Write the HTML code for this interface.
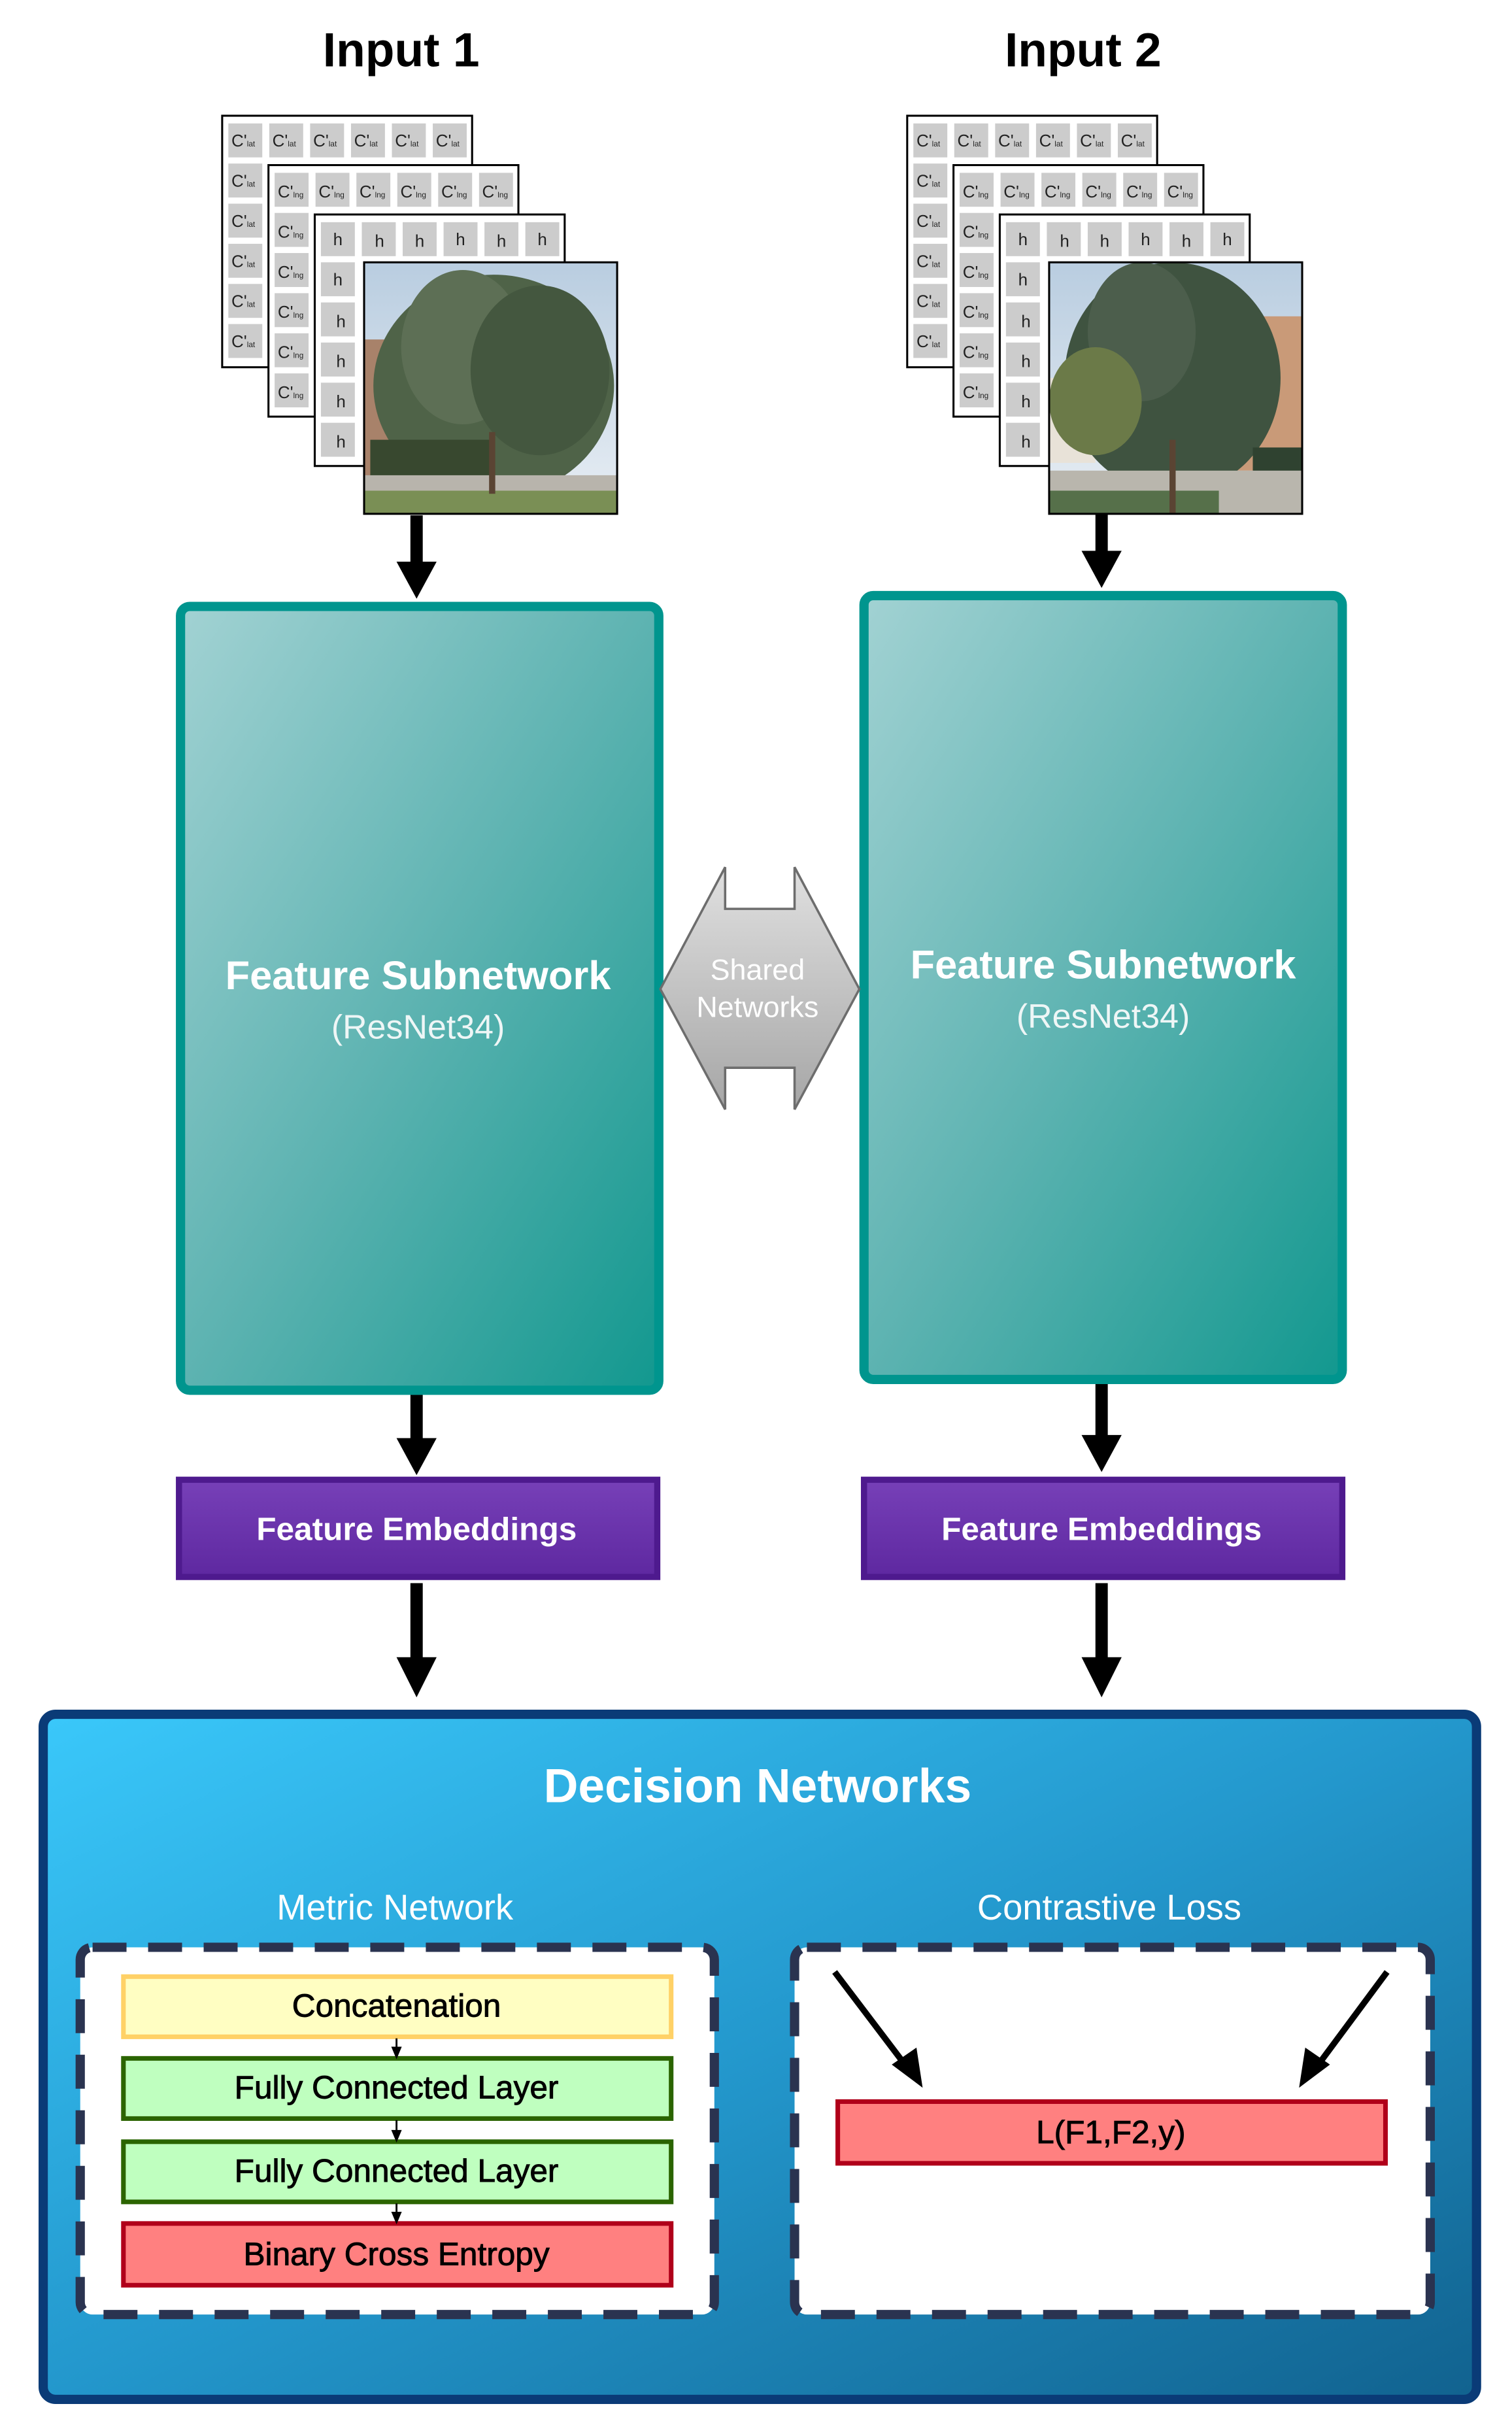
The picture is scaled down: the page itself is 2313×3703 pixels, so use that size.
<!DOCTYPE html>
<html><head><meta charset="utf-8"><style>
html,body{margin:0;padding:0;background:#fff;}
svg{display:block;}
text{font-family:"Liberation Sans",Arial,sans-serif;}
</style></head><body>
<svg width="2313" height="3703" viewBox="0 0 980 1569" preserveAspectRatio="none" xmlns="http://www.w3.org/2000/svg">
<defs>
<linearGradient id="teal" x1="0" y1="0" x2="1" y2="1"><stop offset="0" stop-color="#a2d2d3"/><stop offset="0.5" stop-color="#5db3b1"/><stop offset="1" stop-color="#12988f"/></linearGradient>
<linearGradient id="purp" x1="0" y1="0" x2="0" y2="1"><stop offset="0" stop-color="#7740b8"/><stop offset="1" stop-color="#5e28a0"/></linearGradient>
<linearGradient id="blue" x1="0" y1="0" x2="1" y2="1"><stop offset="0" stop-color="#3ac8fa"/><stop offset="0.5" stop-color="#2397cc"/><stop offset="1" stop-color="#11628f"/></linearGradient>
<linearGradient id="gray" x1="0" y1="0" x2="0" y2="1"><stop offset="0" stop-color="#e0e0e0"/><stop offset="1" stop-color="#a6a6a6"/></linearGradient>
<linearGradient id="sky" x1="0" y1="0" x2="0" y2="1"><stop offset="0" stop-color="#b9cde0"/><stop offset="1" stop-color="#e8eef4"/></linearGradient>
<clipPath id="p1"><rect x="236" y="170" width="164" height="163"/></clipPath>
<clipPath id="p2"><rect x="680" y="170" width="164" height="163"/></clipPath>
</defs>

<text x="260" y="43" font-size="31" font-weight="bold" text-anchor="middle">Input 1</text>
<text x="702" y="43" font-size="31" font-weight="bold" text-anchor="middle">Input 2</text>

<!-- STACK 1 -->
<g id="s1">
<g transform="translate(144,75)">
<rect x="0" y="0" width="162" height="163" fill="#fff" stroke="#000" stroke-width="1.3"/>
<g fill="#ccc"><rect x="4" y="5" width="22" height="22"/><rect x="30.5" y="5" width="22" height="22"/><rect x="57" y="5" width="22" height="22"/><rect x="83.5" y="5" width="22" height="22"/><rect x="110" y="5" width="22" height="22"/><rect x="136.5" y="5" width="22" height="22"/><rect x="4" y="31" width="22" height="22"/><rect x="4" y="57" width="22" height="22"/><rect x="4" y="83" width="22" height="22"/><rect x="4" y="109" width="22" height="22"/><rect x="4" y="135" width="22" height="22"/></g>
<g font-size="11" fill="#222">
<text x="6" y="20">C'<tspan font-size="5">lat</tspan></text><text x="32.5" y="20">C'<tspan font-size="5">lat</tspan></text><text x="59" y="20">C'<tspan font-size="5">lat</tspan></text><text x="85.5" y="20">C'<tspan font-size="5">lat</tspan></text><text x="112" y="20">C'<tspan font-size="5">lat</tspan></text><text x="138.5" y="20">C'<tspan font-size="5">lat</tspan></text>
<text x="6" y="46">C'<tspan font-size="5">lat</tspan></text><text x="6" y="72">C'<tspan font-size="5">lat</tspan></text><text x="6" y="98">C'<tspan font-size="5">lat</tspan></text><text x="6" y="124">C'<tspan font-size="5">lat</tspan></text><text x="6" y="150">C'<tspan font-size="5">lat</tspan></text>
</g></g>
<g transform="translate(174,107)">
<rect x="0" y="0" width="162" height="163" fill="#fff" stroke="#000" stroke-width="1.3"/>
<g fill="#ccc"><rect x="4" y="5" width="22" height="22"/><rect x="30.5" y="5" width="22" height="22"/><rect x="57" y="5" width="22" height="22"/><rect x="83.5" y="5" width="22" height="22"/><rect x="110" y="5" width="22" height="22"/><rect x="136.5" y="5" width="22" height="22"/><rect x="4" y="31" width="22" height="22"/><rect x="4" y="57" width="22" height="22"/><rect x="4" y="83" width="22" height="22"/><rect x="4" y="109" width="22" height="22"/><rect x="4" y="135" width="22" height="22"/></g>
<g font-size="11" fill="#222">
<text x="6" y="21">C'<tspan font-size="5">lng</tspan></text><text x="32.5" y="21">C'<tspan font-size="5">lng</tspan></text><text x="59" y="21">C'<tspan font-size="5">lng</tspan></text><text x="85.5" y="21">C'<tspan font-size="5">lng</tspan></text><text x="112" y="21">C'<tspan font-size="5">lng</tspan></text><text x="138.5" y="21">C'<tspan font-size="5">lng</tspan></text>
<text x="6" y="47">C'<tspan font-size="5">lng</tspan></text><text x="6" y="73">C'<tspan font-size="5">lng</tspan></text><text x="6" y="99">C'<tspan font-size="5">lng</tspan></text><text x="6" y="125">C'<tspan font-size="5">lng</tspan></text><text x="6" y="151">C'<tspan font-size="5">lng</tspan></text>
</g></g>
<g transform="translate(204,139)">
<rect x="0" y="0" width="162" height="163" fill="#fff" stroke="#000" stroke-width="1.3"/>
<g fill="#ccc"><rect x="4" y="5" width="22" height="22"/><rect x="30.5" y="5" width="22" height="22"/><rect x="57" y="5" width="22" height="22"/><rect x="83.5" y="5" width="22" height="22"/><rect x="110" y="5" width="22" height="22"/><rect x="136.5" y="5" width="22" height="22"/><rect x="4" y="31" width="22" height="22"/><rect x="4" y="57" width="22" height="22"/><rect x="4" y="83" width="22" height="22"/><rect x="4" y="109" width="22" height="22"/><rect x="4" y="135" width="22" height="22"/></g>
<g font-size="11" fill="#222" text-anchor="middle">
<text x="15" y="20">h</text><text x="42" y="21">h</text><text x="68" y="21">h</text><text x="94.5" y="20">h</text><text x="121" y="21">h</text><text x="147.5" y="20">h</text>
<text x="15" y="46">h</text><text x="17" y="73">h</text><text x="17" y="99">h</text><text x="17" y="125">h</text><text x="17" y="151">h</text>
</g></g>
<g clip-path="url(#p1)">
<rect x="236" y="170" width="164" height="163" fill="url(#sky)"/>
<rect x="236" y="220" width="40" height="90" fill="#a8826a"/>
<ellipse cx="320" cy="250" rx="78" ry="72" fill="#4f6348"/>
<ellipse cx="300" cy="225" rx="40" ry="50" fill="#5d6f55"/>
<ellipse cx="350" cy="240" rx="45" ry="55" fill="#44573f"/>
<rect x="240" y="285" width="80" height="30" fill="#38482f"/>
<rect x="236" y="308" width="164" height="12" fill="#b8b4ac"/>
<rect x="236" y="318" width="164" height="16" fill="#7a8f55"/>
<rect x="317" y="280" width="4" height="40" fill="#5a4433"/>
</g>
<rect x="236" y="170" width="164" height="163" fill="none" stroke="#000" stroke-width="1.3"/>
</g>

<!-- STACK 2 -->
<g transform="translate(444,0)">
<g transform="translate(144,75)">
<rect x="0" y="0" width="162" height="163" fill="#fff" stroke="#000" stroke-width="1.3"/>
<g fill="#ccc"><rect x="4" y="5" width="22" height="22"/><rect x="30.5" y="5" width="22" height="22"/><rect x="57" y="5" width="22" height="22"/><rect x="83.5" y="5" width="22" height="22"/><rect x="110" y="5" width="22" height="22"/><rect x="136.5" y="5" width="22" height="22"/><rect x="4" y="31" width="22" height="22"/><rect x="4" y="57" width="22" height="22"/><rect x="4" y="83" width="22" height="22"/><rect x="4" y="109" width="22" height="22"/><rect x="4" y="135" width="22" height="22"/></g>
<g font-size="11" fill="#222">
<text x="6" y="20">C'<tspan font-size="5">lat</tspan></text><text x="32.5" y="20">C'<tspan font-size="5">lat</tspan></text><text x="59" y="20">C'<tspan font-size="5">lat</tspan></text><text x="85.5" y="20">C'<tspan font-size="5">lat</tspan></text><text x="112" y="20">C'<tspan font-size="5">lat</tspan></text><text x="138.5" y="20">C'<tspan font-size="5">lat</tspan></text>
<text x="6" y="46">C'<tspan font-size="5">lat</tspan></text><text x="6" y="72">C'<tspan font-size="5">lat</tspan></text><text x="6" y="98">C'<tspan font-size="5">lat</tspan></text><text x="6" y="124">C'<tspan font-size="5">lat</tspan></text><text x="6" y="150">C'<tspan font-size="5">lat</tspan></text>
</g></g>
<g transform="translate(174,107)">
<rect x="0" y="0" width="162" height="163" fill="#fff" stroke="#000" stroke-width="1.3"/>
<g fill="#ccc"><rect x="4" y="5" width="22" height="22"/><rect x="30.5" y="5" width="22" height="22"/><rect x="57" y="5" width="22" height="22"/><rect x="83.5" y="5" width="22" height="22"/><rect x="110" y="5" width="22" height="22"/><rect x="136.5" y="5" width="22" height="22"/><rect x="4" y="31" width="22" height="22"/><rect x="4" y="57" width="22" height="22"/><rect x="4" y="83" width="22" height="22"/><rect x="4" y="109" width="22" height="22"/><rect x="4" y="135" width="22" height="22"/></g>
<g font-size="11" fill="#222">
<text x="6" y="21">C'<tspan font-size="5">lng</tspan></text><text x="32.5" y="21">C'<tspan font-size="5">lng</tspan></text><text x="59" y="21">C'<tspan font-size="5">lng</tspan></text><text x="85.5" y="21">C'<tspan font-size="5">lng</tspan></text><text x="112" y="21">C'<tspan font-size="5">lng</tspan></text><text x="138.5" y="21">C'<tspan font-size="5">lng</tspan></text>
<text x="6" y="47">C'<tspan font-size="5">lng</tspan></text><text x="6" y="73">C'<tspan font-size="5">lng</tspan></text><text x="6" y="99">C'<tspan font-size="5">lng</tspan></text><text x="6" y="125">C'<tspan font-size="5">lng</tspan></text><text x="6" y="151">C'<tspan font-size="5">lng</tspan></text>
</g></g>
<g transform="translate(204,139)">
<rect x="0" y="0" width="162" height="163" fill="#fff" stroke="#000" stroke-width="1.3"/>
<g fill="#ccc"><rect x="4" y="5" width="22" height="22"/><rect x="30.5" y="5" width="22" height="22"/><rect x="57" y="5" width="22" height="22"/><rect x="83.5" y="5" width="22" height="22"/><rect x="110" y="5" width="22" height="22"/><rect x="136.5" y="5" width="22" height="22"/><rect x="4" y="31" width="22" height="22"/><rect x="4" y="57" width="22" height="22"/><rect x="4" y="83" width="22" height="22"/><rect x="4" y="109" width="22" height="22"/><rect x="4" y="135" width="22" height="22"/></g>
<g font-size="11" fill="#222" text-anchor="middle">
<text x="15" y="20">h</text><text x="42" y="21">h</text><text x="68" y="21">h</text><text x="94.5" y="20">h</text><text x="121" y="21">h</text><text x="147.5" y="20">h</text>
<text x="15" y="46">h</text><text x="17" y="73">h</text><text x="17" y="99">h</text><text x="17" y="125">h</text><text x="17" y="151">h</text>
</g></g>
</g>
<g clip-path="url(#p2)">
<rect x="680" y="170" width="164" height="163" fill="url(#sky)"/>
<rect x="800" y="205" width="44" height="100" fill="#c99a78"/>
<rect x="680" y="245" width="30" height="55" fill="#e8e2d8"/>
<ellipse cx="760" cy="245" rx="70" ry="75" fill="#3f5340"/>
<ellipse cx="740" cy="215" rx="35" ry="45" fill="#4c5e4c"/>
<ellipse cx="710" cy="260" rx="30" ry="35" fill="#6b7a48"/>
<rect x="812" y="290" width="32" height="30" fill="#2f4230"/>
<rect x="680" y="305" width="164" height="28" fill="#b9b6ad"/>
<rect x="680" y="318" width="110" height="15" fill="#56704a"/>
<rect x="758" y="285" width="4" height="48" fill="#5a4433"/>
</g>
<rect x="680" y="170" width="164" height="163" fill="none" stroke="#000" stroke-width="1.3"/>

<!-- arrows -->
<g fill="#000">
<rect x="266" y="334" width="8" height="34"/><polygon points="257,364 283,364 270,388"/>
<rect x="710" y="333" width="8" height="28"/><polygon points="701,357 727,357 714,381"/>
<rect x="266" y="904" width="8" height="32"/><polygon points="257,932 283,932 270,956"/>
<rect x="710" y="896" width="8" height="38"/><polygon points="701,930 727,930 714,954"/>
<rect x="266" y="1026" width="8" height="52"/><polygon points="257,1074 283,1074 270,1100"/>
<rect x="710" y="1026" width="8" height="52"/><polygon points="701,1074 727,1074 714,1100"/>
</g>

<!-- feature subnetworks -->
<rect x="117" y="393" width="310" height="508" rx="6" fill="url(#teal)" stroke="#00958e" stroke-width="6"/>
<text x="271" y="641" font-size="26" font-weight="bold" fill="#fff" text-anchor="middle">Feature Subnetwork</text>
<text x="271" y="673" font-size="22" fill="#eef6f6" text-anchor="middle">(ResNet34)</text>
<rect x="560" y="386" width="310" height="508" rx="6" fill="url(#teal)" stroke="#00958e" stroke-width="6"/>
<text x="715" y="634" font-size="26" font-weight="bold" fill="#fff" text-anchor="middle">Feature Subnetwork</text>
<text x="715" y="666" font-size="22" fill="#eef6f6" text-anchor="middle">(ResNet34)</text>

<!-- shared -->
<polygon points="428,641 470,562 470,589 515,589 515,562 557,641 515,719 515,692 470,692 470,719" fill="url(#gray)" stroke="#6d6d6d" stroke-width="1.5"/>
<text x="491" y="635" font-size="19" fill="#fff" text-anchor="middle">Shared</text>
<text x="491" y="659" font-size="19" fill="#fff" text-anchor="middle">Networks</text>

<!-- embeddings -->
<rect x="116" y="959" width="310" height="63" fill="url(#purp)" stroke="#4e1a8e" stroke-width="4"/>
<text x="270" y="998" font-size="21" font-weight="bold" fill="#fff" text-anchor="middle">Feature Embeddings</text>
<rect x="560" y="959" width="310" height="63" fill="url(#purp)" stroke="#4e1a8e" stroke-width="4"/>
<text x="714" y="998" font-size="21" font-weight="bold" fill="#fff" text-anchor="middle">Feature Embeddings</text>

<!-- decision -->
<rect x="28" y="1111" width="929" height="444" rx="8" fill="url(#blue)" stroke="#0a3b77" stroke-width="6"/>
<text x="491" y="1168" font-size="31" font-weight="bold" fill="#fff" text-anchor="middle">Decision Networks</text>
<text x="256" y="1244" font-size="23" fill="#fff" text-anchor="middle">Metric Network</text>
<text x="719" y="1244" font-size="23" fill="#fff" text-anchor="middle">Contrastive Loss</text>

<rect x="52" y="1262" width="411" height="238" rx="8" fill="#fff" stroke="#2a3350" stroke-width="6" stroke-dasharray="22 14"/>
<rect x="515" y="1262" width="412" height="238" rx="8" fill="#fff" stroke="#2a3350" stroke-width="6" stroke-dasharray="22 14"/>

<rect x="80" y="1281" width="355" height="39" fill="#fffec2" stroke="#ffd166" stroke-width="3"/>
<text x="257" y="1307" font-size="21" fill="#000" stroke="#000" stroke-width="0.4" text-anchor="middle">Concatenation</text>
<rect x="80" y="1334" width="355" height="39" fill="#bfffbf" stroke="#2b6400" stroke-width="3"/>
<text x="257" y="1360" font-size="21" fill="#000" stroke="#000" stroke-width="0.4" text-anchor="middle">Fully Connected Layer</text>
<rect x="80" y="1388" width="355" height="39" fill="#bfffbf" stroke="#2b6400" stroke-width="3"/>
<text x="257" y="1414" font-size="21" fill="#000" stroke="#000" stroke-width="0.4" text-anchor="middle">Fully Connected Layer</text>
<rect x="80" y="1441" width="355" height="40" fill="#ff8080" stroke="#b0001a" stroke-width="3"/>
<text x="257" y="1468" font-size="21" fill="#000" stroke="#000" stroke-width="0.4" text-anchor="middle">Binary Cross Entropy</text>
<g stroke="#000" stroke-width="1.2" fill="#000">
<line x1="257" y1="1321" x2="257" y2="1330"/><polygon points="254.5,1327 259.5,1327 257,1333"/>
<line x1="257" y1="1374" x2="257" y2="1384"/><polygon points="254.5,1381 259.5,1381 257,1387"/>
<line x1="257" y1="1428" x2="257" y2="1437"/><polygon points="254.5,1434 259.5,1434 257,1440"/>
</g>

<rect x="543" y="1362" width="355" height="40" fill="#ff8080" stroke="#b0001a" stroke-width="3"/>
<text x="720" y="1389" font-size="21" fill="#000" stroke="#000" stroke-width="0.4" text-anchor="middle">L(F1,F2,y)</text>
<g stroke="#000" stroke-width="4">
<line x1="541" y1="1278" x2="588" y2="1340"/>
<line x1="899" y1="1278" x2="853" y2="1340"/>
</g>
<polygon points="598,1353 578,1338 594,1327" fill="#000"/>
<polygon points="842,1353 846,1327 862,1338" fill="#000"/>
</svg>
</body></html>
